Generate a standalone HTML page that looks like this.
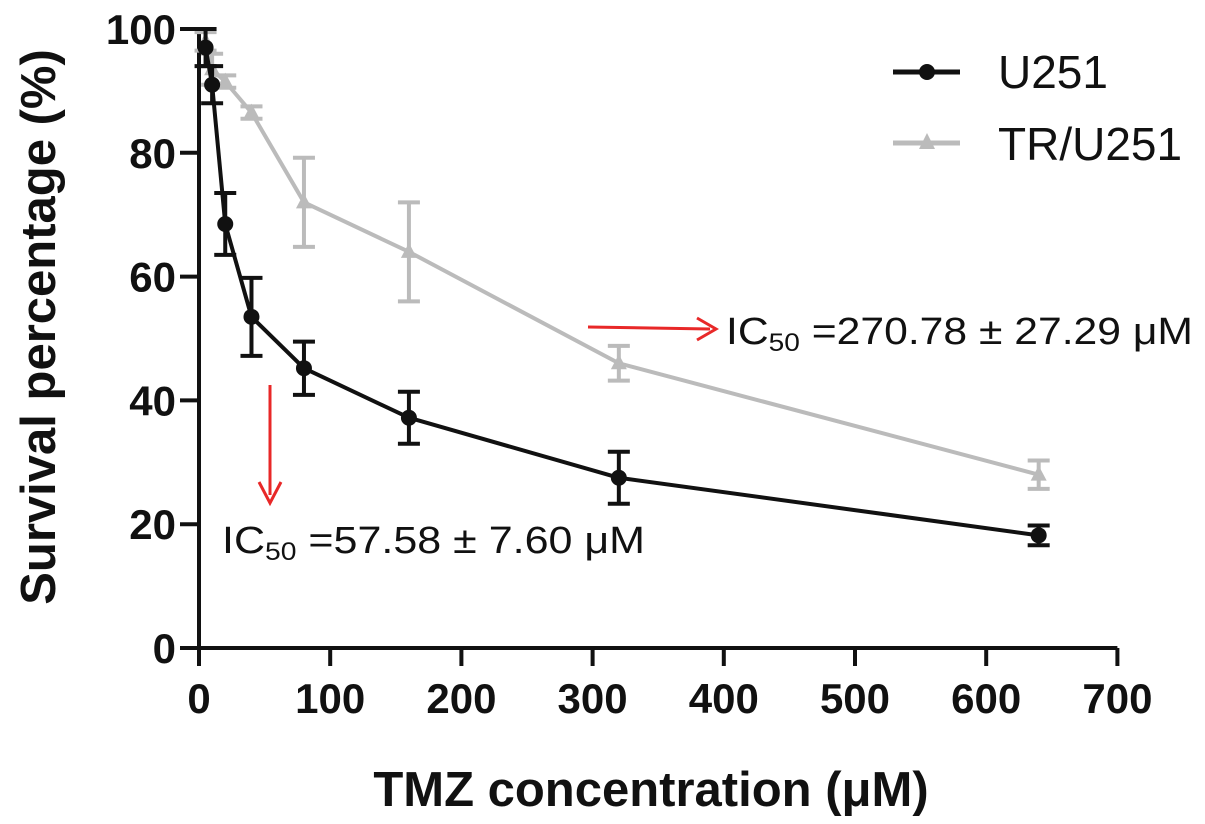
<!DOCTYPE html>
<html><head><meta charset="utf-8"><style>
html,body{margin:0;padding:0;background:#fff;width:1205px;height:824px;overflow:hidden}
svg{display:block}
</style></head><body>
<svg id="chart" width="1205" height="824" font-family="Liberation Sans, sans-serif">
<g id="axes"></g>
<g id="series"></g>
<text transform="translate(55,327) rotate(-90)" text-anchor="middle" font-size="49" font-weight="bold" fill="#111">Survival percentage (%)</text>
<text x="651" y="806" text-anchor="middle" font-size="49" font-weight="bold" fill="#111">TMZ concentration (μM)</text>
<g>
<g>
<line x1="893" y1="72" x2="960" y2="72" stroke="#111" stroke-width="5"/>
<circle cx="927" cy="72" r="8" fill="#111"/>
<text x="998" y="88" font-size="46" fill="#111">U251</text></g>
<g>
<line x1="893" y1="143" x2="960" y2="143" stroke="#bbb" stroke-width="5"/>
<polygon points="927,133 935,149 919,149" fill="#bbb"/>
<text x="998" y="160" font-size="46" fill="#111">TR/U251</text></g>
</g>
<g>
<line x1="270" y1="385" x2="270" y2="495" stroke="#e82828" stroke-width="3"/>
<polyline points="259,482 270,503 281,482" fill="none" stroke="#e82828" stroke-width="3"/>
<text x="222" y="553" font-size="38" fill="#111" textLength="423" lengthAdjust="spacingAndGlyphs">IC<tspan font-size="25" dy="7">50</tspan><tspan dy="-7"> =57.58 ± 7.60 μM</tspan></text>
</g>
<g>
<line x1="588" y1="327" x2="710" y2="329" stroke="#e82828" stroke-width="3"/>
<polyline points="697,318 716,329 697,340" fill="none" stroke="#e82828" stroke-width="3"/>
<text x="726" y="344" font-size="38" fill="#111" textLength="467" lengthAdjust="spacingAndGlyphs">IC<tspan font-size="25" dy="7">50</tspan><tspan dy="-7"> =270.78 ± 27.29 μM</tspan></text>
</g>
</svg>
<script>
const xTicks=[0,100,200,300,400,500,600,700];
const yTicks=[0,20,40,60,80,100];
const conc=[5,10,20,40,80,160,320,640];
const u251=[97,91,68.5,53.5,45.2,37.2,27.5,18.2];
const u251Err=[3,3,5,6.3,4.3,4.2,4.2,1.6];
const tr=[98,93.5,91.5,86.5,72,64,46,28];
const trErr=[1.5,2.5,1,1,7.2,8,2.8,2.3];
const NS='http://www.w3.org/2000/svg';
function X(v){return 199+v*1.312;}
function Y(v){return 648-v*6.19;}
function mk(tag,attrs,parent){const e=document.createElementNS(NS,tag);for(const k in attrs)e.setAttribute(k,attrs[k]);parent.appendChild(e);return e;}
const ax=document.getElementById('axes');
let e=mk('line',{x1:X(0),y1:Y(0),x2:X(700),y2:Y(0),stroke:'#111','stroke-width':4},ax);


e=mk('line',{x1:X(0),y1:Y(0),x2:X(0),y2:Y(100),stroke:'#111','stroke-width':4},ax);


xTicks.forEach(t=>{
 const l=mk('line',{x1:X(t),y1:Y(0),x2:X(t),y2:Y(0)+18,stroke:'#111','stroke-width':4},ax);
 
 
 const tx=mk('text',{x:X(t),y:713,'text-anchor':'middle','font-size':42,'font-weight':'bold',fill:'#111'},ax);
 tx.textContent=t;
 
 
});
yTicks.forEach(t=>{
 const l=mk('line',{x1:X(0)-19,y1:Y(t),x2:X(0),y2:Y(t),stroke:'#111','stroke-width':4},ax);
 
 
 const tx=mk('text',{x:176,y:Y(t)+15,'text-anchor':'end','font-size':42,'font-weight':'bold',fill:'#111'},ax);
 tx.textContent=t;
 
 
});
const sg=document.getElementById('series');
function drawSeries(vals,errs,color,shape,name){
 const g=mk('g',{},sg);
 
 
 const pts=conc.map((c,i)=>X(c)+','+Y(vals[i])).join(' ');
 mk('polyline',{points:pts,fill:'none',stroke:color,'stroke-width':4,'stroke-linejoin':'round'},g);
 conc.forEach((c,i)=>{
  const x=X(c),y=Y(vals[i]),hi=Y(vals[i]+errs[i]),lo=Y(vals[i]-errs[i]);
  const eb=mk('path',{d:`M${x},${hi}V${lo}M${x-11},${hi}H${x+11}M${x-11},${lo}H${x+11}`,stroke:color,'stroke-width':4,fill:'none'},g);
  
  
  let m;
  if(shape==='circle')m=mk('circle',{cx:x,cy:y,r:8,fill:color},g);
  else m=mk('polygon',{points:`${x},${y-9} ${x+8},${y+6} ${x-8},${y+6}`,fill:color},g);
  
  
 });
}
drawSeries(tr,trErr,'#bbb','tri','series-tr-u251');
drawSeries(u251,u251Err,'#111','circle','series-u251');
</script>
</body></html>
